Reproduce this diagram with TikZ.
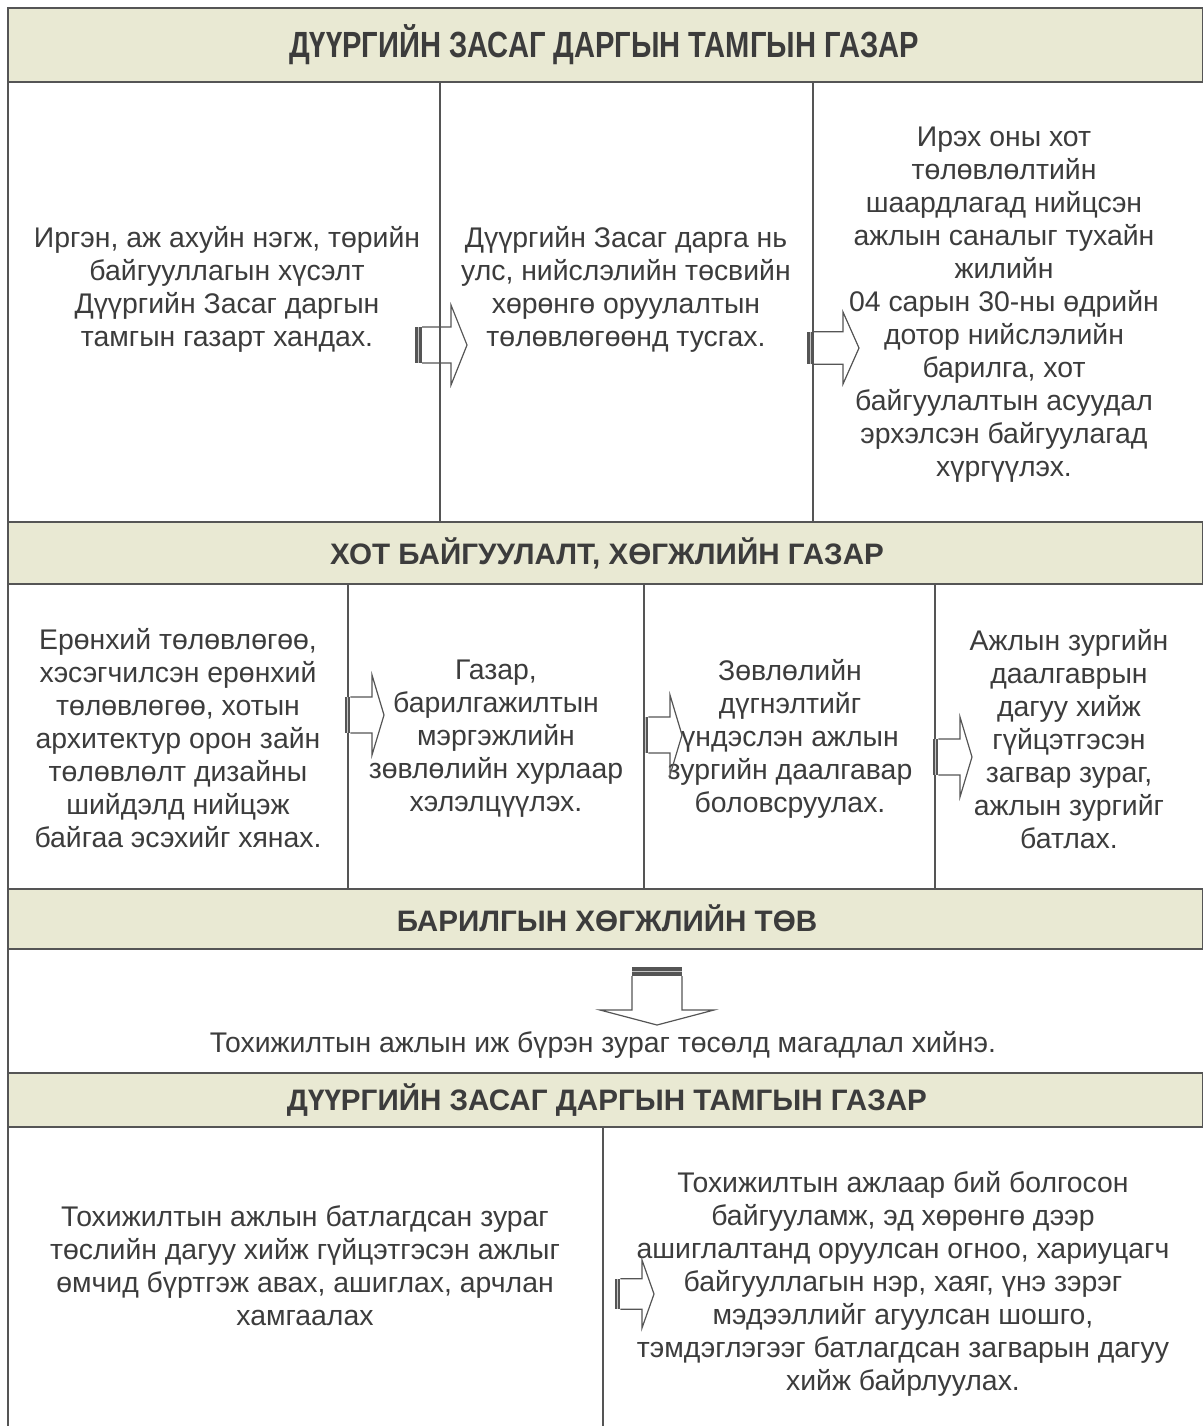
\documentclass[tikz,border=0pt]{standalone}
\usepackage{fontspec}
\setmainfont{Liberation Sans}
\newfontfamily\headnarrow[FakeStretch=0.8]{Liberation Sans}
\usepackage{xcolor}
\usetikzlibrary{positioning}
\definecolor{bandfill}{HTML}{E9E9D3}
\definecolor{inkgray}{HTML}{3C3C3C}
\definecolor{linegray}{HTML}{555555}

\begin{document}
\begin{tikzpicture}[x=0.5pt, y=-0.5pt,
  band/.style={fill=bandfill, draw=linegray, line width=0.9pt},
  bandtext/.style={font=\fontsize{14.8}{17}\selectfont\bfseries, text=inkgray},
  rule/.style={draw=linegray, line width=0.7pt},
  cell/.style={align=center, text=inkgray, inner sep=0pt, font=\fontsize{14.2}{16.5}\selectfont},
  rarrow/.pic={
    \fill[linegray] (0,-18) rectangle (7,18);
    \draw[white!65!linegray, line width=0.6pt] (3.5,-18) -- (3.5,18);
    \draw[linegray, line width=0.6pt] (7,-18) -- (36,-18) -- (36,-40) -- (52,0)
      -- (36,40) -- (36,18) -- (7,18);
  },
  darrow/.pic={
    \fill[linegray] (-25,0) rectangle (25,9);
    \draw[white!65!linegray, line width=0.6pt] (-25,4.5) -- (25,4.5);
    \draw[linegray, line width=0.6pt] (-25,9) -- (-25,43) -- (-57,43) -- (0,58)
      -- (57,43) -- (25,43) -- (25,9);
  }]
  \useasboundingbox (0,0) rectangle (1203,1426);

  % bands
  \path[band] (8,8) rectangle (1203,82);
  \path[band] (8,522) rectangle (1203,584);
  \path[band] (8,889) rectangle (1203,949);
  \path[band] (8,1073) rectangle (1203,1127);
  \node[bandtext, font=\headnarrow\fontsize{18.2}{20}\selectfont\bfseries] (headA) at (604,45) {ДҮҮРГИЙН ЗАСАГ ДАРГЫН ТАМГЫН ГАЗАР};
  \node[bandtext] (headB) at (607,553) {ХОТ БАЙГУУЛАЛТ, ХӨГЖЛИЙН ГАЗАР};
  \node[bandtext] (headC) at (607,918) {БАРИЛГЫН ХӨГЖЛИЙН ТӨВ};
  \node[bandtext] (headD) at (607,1100) {ДҮҮРГИЙН ЗАСАГ ДАРГЫН ТАМГЫН ГАЗАР};

  % frame
  \draw[rule] (8,8) -- (8,1426);
  \draw[rule] (440,82) -- (440,522);
  \draw[rule] (813,82) -- (813,522);
  \draw[rule] (348,584) -- (348,889);
  \draw[rule] (644,584) -- (644,889);
  \draw[rule] (935,584) -- (935,889);
  \draw[rule] (603,1127) -- (603,1426);

  % first row
  \node[cell] (stepA) at (227,289) {Иргэн, аж ахуйн нэгж, төрийн\\байгууллагын хүсэлт\\Дүүргийн Засаг даргын\\тамгын газарт хандах.};
  \node[cell] (stepB) at (626,289) {Дүүргийн Засаг дарга нь\\улс, нийслэлийн төсвийн\\хөрөнгө оруулалтын\\төлөвлөгөөнд тусгах.};
  \node[cell] (stepC) at (1004,305) {Ирэх оны хот\\төлөвлөлтийн\\шаардлагад нийцсэн\\ажлын саналыг тухайн\\жилийн\\04 сарын 30-ны өдрийн\\дотор нийслэлийн\\барилга, хот\\байгуулалтын асуудал\\эрхэлсэн байгуулагад\\хүргүүлэх.};

  % second row
  \node[cell] (stepD) at (178,738) {Ерөнхий төлөвлөгөө,\\хэсэгчилсэн ерөнхий\\төлөвлөгөө, хотын\\архитектур орон зайн\\төлөвлөлт дизайны\\шийдэлд нийцэж\\байгаа эсэхийг хянах.};
  \node[cell] (stepE) at (496,739) {Газар,\\барилгажилтын\\мэргэжлийн\\зөвлөлийн хурлаар\\хэлэлцүүлэх.};
  \node[cell] (stepF) at (790,739) {Зөвлөлийн\\дүгнэлтийг\\үндэслэн ажлын\\зургийн даалгавар\\боловсруулах.};
  \node[cell] (stepG) at (1069,739) {Ажлын зургийн\\даалгаврын\\дагуу хийж\\гүйцэтгэсэн\\загвар зураг,\\ажлын зургийг\\батлах.};

  % third row
  \node[cell] (stepH) at (603,1045) {Тохижилтын ажлын иж бүрэн зураг төсөлд магадлал хийнэ.};

  % fourth row
  \node[cell] (stepI) at (305,1266) {Тохижилтын ажлын батлагдсан зураг\\төслийн дагуу хийж гүйцэтгэсэн ажлыг\\өмчид бүртгэж авах, ашиглах, арчлан\\хамгаалах};
  \node[cell] (stepJ) at (903,1284) {Тохижилтын ажлаар бий болгосон\\байгууламж, эд хөрөнгө дээр\\ашиглалтанд оруулсан огноо, хариуцагч\\байгууллагын нэр, хаяг, үнэ зэрэг\\мэдээллийг агуулсан шошго,\\тэмдэглэгээг батлагдсан загварын дагуу\\хийж байрлуулах.};

  % block arrows
  \pic at (415,345) {rarrow};
  \pic[yscale=0.9] at (807,348) {rarrow};
  \pic[xscale=0.75] at (345,715) {rarrow};
  \pic[xscale=0.75] at (643,735) {rarrow};
  \pic[xscale=0.75] at (933,757) {rarrow};
  \pic[xscale=0.75, yscale=0.85] at (615,1294) {rarrow};
  \pic at (657,967) {darrow};
\end{tikzpicture}
\end{document}
